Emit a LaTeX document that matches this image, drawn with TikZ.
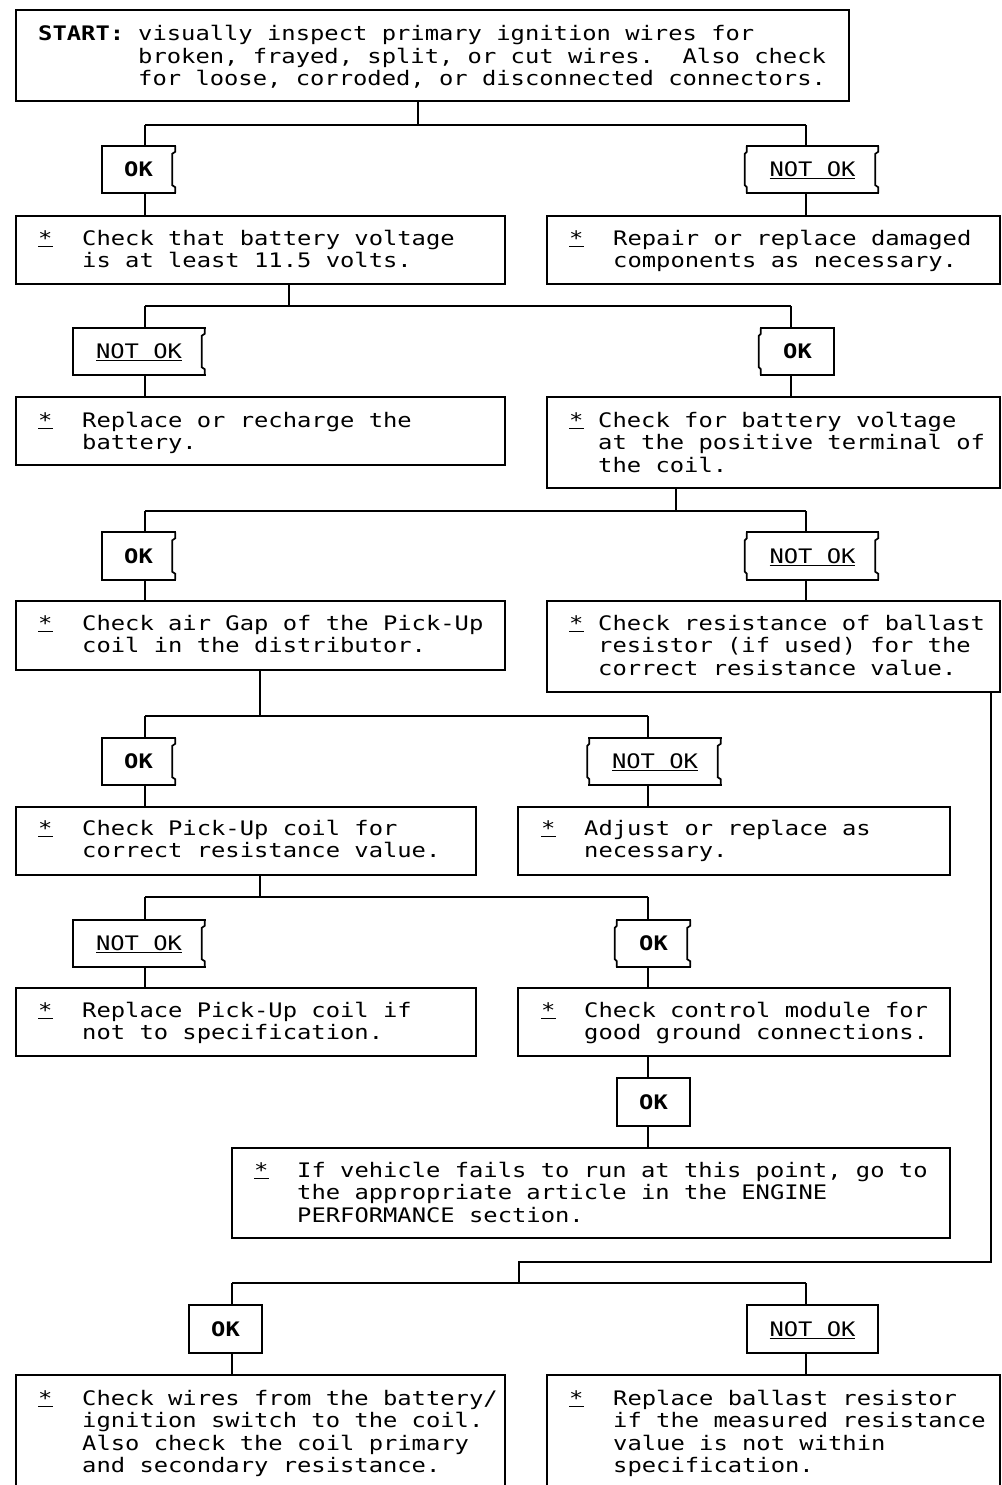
\documentclass[tikz,border=0pt]{standalone}
\usepackage{fontspec}
\setmonofont[FakeStretch=1.19]{DejaVu Sans Mono}
\usetikzlibrary{fit}
\newcommand\txtfont{\fontsize{20}{22.5}\selectfont\ttfamily\frenchspacing}
\newcommand\stk{\underline{*}}
\newcommand\ml[1]{\begin{tabular}[t]{@{}l@{}}#1\end{tabular}}
\tikzset{
 frame/.style={draw=black, line width=1.7pt, line cap=rect},
 wire/.style={draw=black, line width=1.7pt},
 bx/.style={frame, inner sep=0pt, rectangle},
 txt/.style={inner sep=0pt, anchor=base west, font=\txtfont},
 lbl/.style={inner sep=0pt, font=\txtfont, text height=14.6pt, text depth=0pt},
 okl/.style={lbl, minimum width=73pt, minimum height=47pt},
 nokl/.style={lbl, minimum width=131pt, minimum height=47pt},
}
% main box: name, x1, y1, x2, y2
\newcommand\mainbox[5]{%
 \coordinate (#1-a) at (#2,#3);
 \coordinate (#1-b) at (#4,#5);
 \node[bx, fit=(#1-a)(#1-b)] (#1) {};}
% label frame: name, left bulge (0/1), right inset (0/1)
\newcommand\lframe[3]{%
 \draw[frame] (#1.north west) -- (#1.north east);
 \draw[frame] (#1.south west) -- (#1.south east);
 \ifnum#3=1
  \draw[frame, line cap=butt] (#1.north east) -- ([yshift=-6pt]#1.north east) -- ([xshift=-3pt,yshift=-8pt]#1.north east) -- ([xshift=-3pt,yshift=8pt]#1.south east) -- ([yshift=6pt]#1.south east) -- (#1.south east);
 \else
  \draw[frame] (#1.north east) -- (#1.south east);
 \fi
 \ifnum#2=1
  \draw[frame, line cap=butt] (#1.north west) -- ([yshift=-6pt]#1.north west) -- ([xshift=-2pt,yshift=-8pt]#1.north west) -- ([xshift=-2pt,yshift=8pt]#1.south west) -- ([yshift=6pt]#1.south west) -- (#1.south west);
 \else
  \draw[frame] (#1.north west) -- (#1.south west);
 \fi}
\begin{document}
\begin{tikzpicture}[x=1pt, y=-1pt]
\useasboundingbox (0,0) rectangle (1001,1485);
\fill[white] (0,0) rectangle (1001,1485);
\clip (0,0) rectangle (1001,1485);

% ---------- main boxes ----------
\mainbox{start}{16}{10}{849}{101}
\mainbox{c2}{16}{216}{505}{284}
\mainbox{r2}{547}{216}{1000}{284}
\mainbox{l3}{16}{397}{505}{465}
\mainbox{c3}{547}{397}{1000}{488}
\mainbox{c4}{16}{601}{505}{670}
\mainbox{r4}{547}{601}{1000}{692}
\mainbox{c5}{16}{807}{476}{875}
\mainbox{r5}{518}{807}{950}{875}
\mainbox{l6}{16}{988}{476}{1056}
\mainbox{c6}{518}{988}{950}{1056}
\mainbox{c7}{232}{1148}{950}{1238}
\mainbox{l8}{16}{1375}{505}{1520}
\mainbox{r8}{547}{1375}{1000}{1520}

% ---------- labels ----------
\node[okl]  (ok1)  at (138.5,169.5) {\bfseries OK};
\node[nokl] (nok1) at (812.5,169.5) {\underline{NOT OK}};
\node[nokl] (nok2) at (139,351.5)   {\underline{NOT OK}};
\node[okl]  (ok2)  at (797.5,351.5) {\bfseries OK};
\node[okl]  (ok3)  at (138.5,556)   {\bfseries OK};
\node[nokl] (nok3) at (812.5,556)   {\underline{NOT OK}};
\node[okl]  (ok4)  at (138.5,761.5) {\bfseries OK};
\node[nokl] (nok4) at (655,761.5)   {\underline{NOT OK}};
\node[nokl] (nok5) at (139,943.5)   {\underline{NOT OK}};
\node[okl]  (ok5)  at (653.5,943.5) {\bfseries OK};
\node[okl]  (ok6)  at (653.5,1102)  {\bfseries OK};
\node[okl]  (ok7)  at (225.5,1329)  {\bfseries OK};
\node[nokl] (nok7) at (812.5,1329)  {\underline{NOT OK}};
\lframe{ok1}{0}{1}
\lframe{nok1}{1}{1}
\lframe{nok2}{0}{1}
\lframe{ok2}{1}{0}
\lframe{ok3}{0}{1}
\lframe{nok3}{1}{1}
\lframe{ok4}{0}{1}
\lframe{nok4}{1}{1}
\lframe{nok5}{0}{1}
\lframe{ok5}{1}{1}
\lframe{ok6}{0}{0}
\lframe{ok7}{0}{0}
\lframe{nok7}{0}{0}

% ---------- texts ----------
\node[txt] (start-h) at (38,41) {\bfseries START:};
\node[txt] (start-t) at (138,41) {\ml{visually inspect primary ignition wires for\\broken, frayed, split, or cut wires.\ \ Also check\\for loose, corroded, or disconnected connectors.}};

\node[txt] (c2-s) at (38,245) {\stk};
\node[txt] (c2-t) at (82,245) {\ml{Check that battery voltage\\is at least 11.5 volts.}};
\node[txt] (r2-s) at (569,245) {\stk};
\node[txt] (r2-t) at (613,245) {\ml{Repair or replace damaged\\components as necessary.}};

\node[txt] (l3-s) at (38,427) {\stk};
\node[txt] (l3-t) at (82,427) {\ml{Replace or recharge the\\battery.}};
\node[txt] (c3-s) at (569,427) {\stk};
\node[txt] (c3-t) at (598,427) {\ml{Check for battery voltage\\at the positive terminal of\\the coil.}};

\node[txt] (c4-s) at (38,630) {\stk};
\node[txt] (c4-t) at (82,630) {\ml{Check air Gap of the Pick-Up\\coil in the distributor.}};
\node[txt] (r4-s) at (569,630) {\stk};
\node[txt] (r4-t) at (598,630) {\ml{Check resistance of ballast\\resistor (if used) for the\\correct resistance value.}};

\node[txt] (c5-s) at (38,835) {\stk};
\node[txt] (c5-t) at (82,835) {\ml{Check Pick-Up coil for\\correct resistance value.}};
\node[txt] (r5-s) at (541,835) {\stk};
\node[txt] (r5-t) at (584,835) {\ml{Adjust or replace as\\necessary.}};

\node[txt] (l6-s) at (38,1017) {\stk};
\node[txt] (l6-t) at (82,1017) {\ml{Replace Pick-Up coil if\\not to specification.}};
\node[txt] (c6-s) at (541,1017) {\stk};
\node[txt] (c6-t) at (584,1017) {\ml{Check control module for\\good ground connections.}};

\node[txt] (c7-s) at (254,1177) {\stk};
\node[txt] (c7-t) at (297,1177) {\ml{If vehicle fails to run at this point, go to\\the appropriate article in the ENGINE\\PERFORMANCE section.}};

\node[txt] (l8-s) at (38,1405) {\stk};
\node[txt] (l8-t) at (82,1405) {\ml{Check wires from the battery/\\ignition switch to the coil.\\Also check the coil primary\\and secondary resistance.}};
\node[txt] (r8-s) at (569,1405) {\stk};
\node[txt] (r8-t) at (613,1405) {\ml{Replace ballast resistor\\if the measured resistance\\value is not within\\specification.}};

% ---------- connectors ----------
% branch 1
\coordinate (j1) at (418,125); \coordinate (j1l) at (145,125); \coordinate (j1r) at (806,125);
\draw[wire] (j1 |- start.south) -- (j1);
\draw[wire] (j1l) -- (j1r);
\draw[wire] (j1l) -- (j1l |- ok1.north);
\draw[wire] (j1l |- ok1.south) -- (j1l |- c2.north);
\draw[wire] (j1r) -- (j1r |- nok1.north);
\draw[wire] (j1r |- nok1.south) -- (j1r |- r2.north);
% branch 2
\coordinate (j2) at (289,306); \coordinate (j2l) at (145,306); \coordinate (j2r) at (791,306);
\draw[wire] (j2 |- c2.south) -- (j2);
\draw[wire] (j2l) -- (j2r);
\draw[wire] (j2l) -- (j2l |- nok2.north);
\draw[wire] (j2l |- nok2.south) -- (j2l |- l3.north);
\draw[wire] (j2r) -- (j2r |- ok2.north);
\draw[wire] (j2r |- ok2.south) -- (j2r |- c3.north);
% branch 3
\coordinate (j3) at (676,511); \coordinate (j3l) at (145,511); \coordinate (j3r) at (806,511);
\draw[wire] (j3 |- c3.south) -- (j3);
\draw[wire] (j3l) -- (j3r);
\draw[wire] (j3l) -- (j3l |- ok3.north);
\draw[wire] (j3l |- ok3.south) -- (j3l |- c4.north);
\draw[wire] (j3r) -- (j3r |- nok3.north);
\draw[wire] (j3r |- nok3.south) -- (j3r |- r4.north);
% branch 4
\coordinate (j4) at (260,716); \coordinate (j4l) at (145,716); \coordinate (j4r) at (648,716);
\draw[wire] (j4 |- c4.south) -- (j4);
\draw[wire] (j4l) -- (j4r);
\draw[wire] (j4l) -- (j4l |- ok4.north);
\draw[wire] (j4l |- ok4.south) -- (j4l |- c5.north);
\draw[wire] (j4r) -- (j4r |- nok4.north);
\draw[wire] (j4r |- nok4.south) -- (j4r |- r5.north);
% branch 5
\coordinate (j5) at (260,897); \coordinate (j5l) at (145,897); \coordinate (j5r) at (648,897);
\draw[wire] (j5 |- c5.south) -- (j5);
\draw[wire] (j5l) -- (j5r);
\draw[wire] (j5l) -- (j5l |- nok5.north);
\draw[wire] (j5l |- nok5.south) -- (j5l |- l6.north);
\draw[wire] (j5r) -- (j5r |- ok5.north);
\draw[wire] (j5r |- ok5.south) -- (j5r |- c6.north);
% chain to c7
\draw[wire] (j5r |- c6.south) -- (j5r |- ok6.north);
\draw[wire] (j5r |- ok6.south) -- (j5r |- c7.north);
% branch 7 (from ballast check)
\coordinate (k1) at (991,1262); \coordinate (k2) at (519,1262);
\coordinate (j7) at (519,1283); \coordinate (j7l) at (232,1283); \coordinate (j7r) at (806,1283);
\draw[wire] (k1 |- r4.south) -- (k1) -- (k2) -- (j7);
\draw[wire] (j7l) -- (j7r);
\draw[wire] (j7l) -- (j7l |- ok7.north);
\draw[wire] (j7l |- ok7.south) -- (j7l |- l8.north);
\draw[wire] (j7r) -- (j7r |- nok7.north);
\draw[wire] (j7r |- nok7.south) -- (j7r |- r8.north);
\end{tikzpicture}
\end{document}
